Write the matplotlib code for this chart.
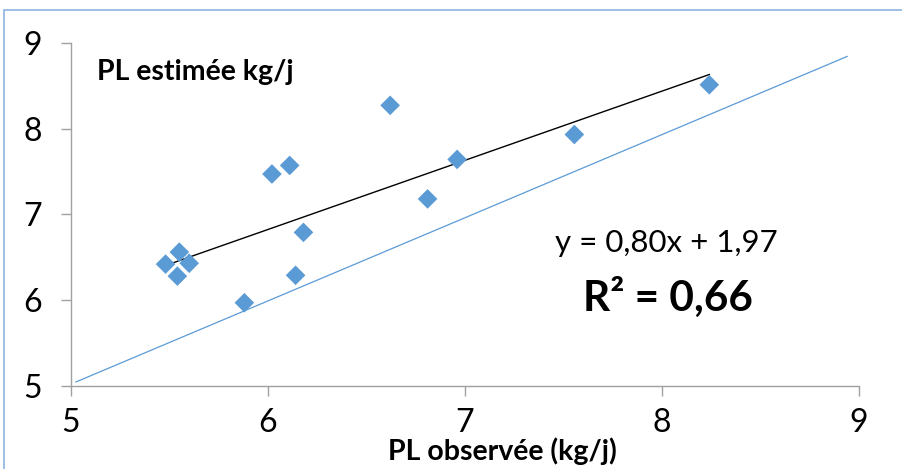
import numpy as np
import matplotlib
matplotlib.use("Agg")
import matplotlib.pyplot as plt
from matplotlib.patches import Rectangle

# Data
pl_observee = [5.48, 5.55, 5.54, 5.60, 5.88, 6.02, 6.11, 6.14, 6.18, 6.62, 6.81, 6.96, 7.555, 8.24]
pl_estimee = [6.42, 6.56, 6.28, 6.43, 5.97, 7.47, 7.57, 6.29, 6.79, 8.27, 7.18, 7.64, 7.93, 8.51]
ref_x = [5.025, 8.94]
ref_y = [5.047, 8.84]
ticks = [5, 6, 7, 8, 9]
equation = "y = 0,80x + 1,97"
r2_text = "R² = 0,66"

plt.rcParams['font.family'] = ['Lato', 'DejaVu Sans']

fig = plt.figure(figsize=(9.02, 4.69), dpi=100)
ax = fig.add_axes([71/902, 1-386/469, (859-71)/902, (386-42.7)/469])

blue = '#5B9BD5'
ax.plot(ref_x, ref_y, color=blue, lw=0.9, zorder=2)

# trend line from fitted data
x = np.array(pl_observee)
y = np.array(pl_estimee)
a, b = np.polyfit(x, y, 1)
xs = np.array([x.min(), x.max()])
ax.plot(xs, a*xs + b, color='black', lw=1.0, zorder=3)

ax.scatter(x, y, marker='D', s=100, color=blue, edgecolors='none', zorder=4)

ax.set_xlim(5, 9)
ax.set_ylim(5, 9)
ax.set_xticks(ticks)
ax.set_yticks(ticks)
ax.set_xticklabels([str(t) for t in ticks])
ax.set_yticklabels([str(t) for t in ticks])
for s in ['top', 'right']:
    ax.spines[s].set_visible(False)
for s in ['left', 'bottom']:
    ax.spines[s].set_color('#A0A0A0')
    ax.spines[s].set_linewidth(1.0)
ax.tick_params(axis='both', direction='out', length=7, width=1.0, color='#A0A0A0',
               labelsize=23, labelcolor='black')
ax.tick_params(axis='x', pad=9)
ax.tick_params(axis='y', pad=14)

fig.text(97/902, 1-72/469, "PL estimée kg/j", fontsize=20.5, fontweight='bold', ha='left', va='center')
fig.text(502/902, 1-451/469, "PL observée (kg/j)", fontsize=20.5, fontweight='bold', ha='center', va='center')
fig.text(666/902, 1-243/469, equation, fontsize=22.5, ha='center', va='center')
fig.text(668/902, 1-297/469, r2_text, fontsize=30.5, fontweight='bold', ha='center', va='center')

fig.patches.append(Rectangle((4/902, -0.1), 1.2, 1-10/469+0.1, transform=fig.transFigure,
                             fill=False, edgecolor='#8DB3E2', lw=1.2))

fig.savefig('out.png', dpi=100)
